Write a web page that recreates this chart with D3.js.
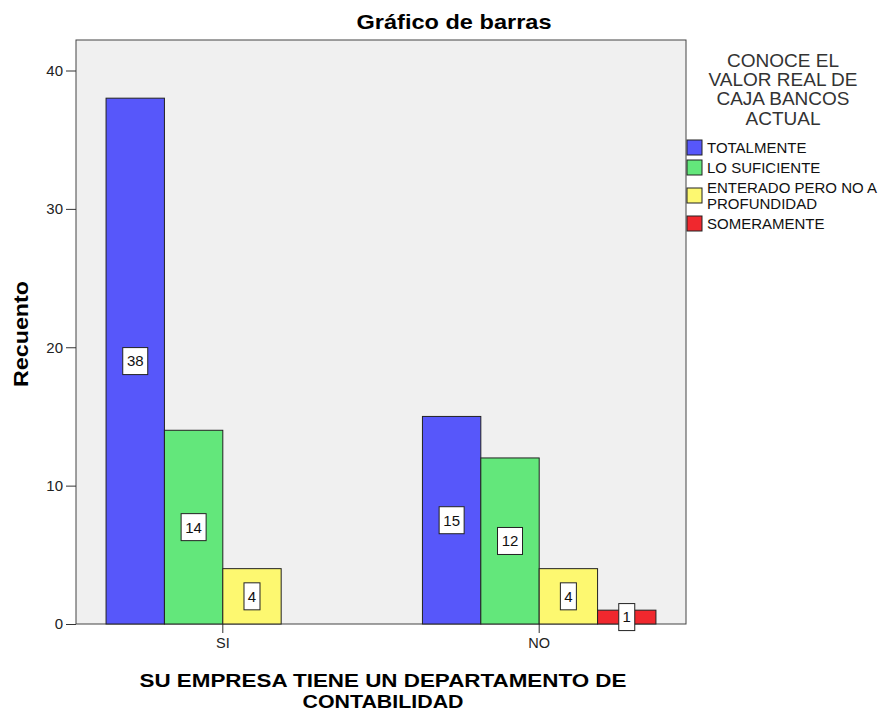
<!DOCTYPE html>
<html>
<head>
<meta charset="utf-8">
<script src="https://cdn.jsdelivr.net/npm/d3@7"></script>
<style>
  body { margin: 0; background: #fff; }
  svg { font-family: "Liberation Sans", Arial, sans-serif; }
</style>
</head>
<body>
<svg id="chart" width="878" height="711"></svg>
<script>
// Categories on the x axis and the response series
const categories = ["SI", "NO"];
const seriesNames = ["TOTALMENTE", "LO SUFICIENTE", "ENTERADO PERO NO A PROFUNDIDAD", "SOMERAMENTE"];
const seriesColors = ["#5757fa", "#63e77b", "#fdf870", "#f0282e"];
// Counts per category, one array per series (null = no bar)
const totalmente = [38, 15];
const loSuficiente = [14, 12];
const enterado = [4, 4];
const someramente = [null, 1];
const yTicks = [0, 10, 20, 30, 40];

const seriesValues = [totalmente, loSuficiente, enterado, someramente];

const svg = d3.select("#chart");
const plot = { left: 76, right: 686, top: 40, bottom: 624 };

const x = d3.scaleBand()
  .domain(categories)
  .range([plot.left, plot.right])
  .paddingInner(0.262)
  .paddingOuter(0.095);

const xs = d3.scaleBand()
  .domain(d3.range(seriesNames.length))
  .range([0, x.bandwidth()]);

const y = d3.scaleLinear()
  .domain([0, 40])
  .range([624, 70.5]);

// Plot background and frame
svg.append("rect")
  .attr("x", plot.left).attr("y", plot.top)
  .attr("width", plot.right - plot.left).attr("height", plot.bottom - plot.top)
  .attr("fill", "#f0f0f0").attr("stroke", "#444").attr("stroke-width", 1);

// Bars
const bars = [];
categories.forEach((c, ci) => {
  seriesValues.forEach((vals, si) => {
    const v = vals[ci];
    if (v != null) bars.push({ c, si, v });
  });
});

const g = svg.append("g");
g.selectAll("rect.bar").data(bars).enter().append("rect")
  .attr("class", "bar")
  .attr("x", d => x(d.c) + xs(d.si))
  .attr("y", d => y(d.v))
  .attr("width", xs.bandwidth())
  .attr("height", d => y(0) - y(d.v))
  .attr("fill", d => seriesColors[d.si])
  .attr("stroke", "#222")
  .attr("stroke-width", 1);

// Value labels in white boxes at mid-height
const lab = g.selectAll("g.lab").data(bars).enter().append("g")
  .attr("class", "lab")
  .attr("transform", d => `translate(${x(d.c) + xs(d.si) + xs.bandwidth() / 2},${(y(0) + y(d.v)) / 2})`);
lab.append("rect")
  .attr("x", d => d.v >= 10 ? -12.5 : -8)
  .attr("y", -13.5)
  .attr("width", d => d.v >= 10 ? 25 : 16)
  .attr("height", 27)
  .attr("fill", "#fff").attr("stroke", "#222").attr("stroke-width", 1);
lab.append("text")
  .attr("text-anchor", "middle")
  .attr("dy", "0.36em")
  .attr("font-size", 15)
  .attr("fill", "#111")
  .text(d => d.v);

// Y axis
const yAxis = svg.append("g")
  .attr("transform", `translate(${plot.left},0)`)
  .call(d3.axisLeft(y).tickValues(yTicks).tickSize(10).tickPadding(3));
yAxis.select(".domain").remove();
yAxis.selectAll("line").attr("stroke", "#333");
yAxis.selectAll("text").attr("font-size", 15).attr("fill", "#222")
  .attr("font-family", "Liberation Sans, Arial, sans-serif");

// X axis
const xAxis = svg.append("g")
  .attr("transform", `translate(0,${plot.bottom})`)
  .call(d3.axisBottom(x).tickSize(9).tickPadding(5));
xAxis.select(".domain").remove();
xAxis.selectAll("line").attr("stroke", "#333");
xAxis.selectAll("text").attr("font-size", 14.5).attr("fill", "#222")
  .attr("font-family", "Liberation Sans, Arial, sans-serif");

// Titles
svg.append("text")
  .attr("x", 454).attr("y", 29)
  .attr("text-anchor", "middle")
  .attr("font-size", 21).attr("font-weight", "bold")
  .attr("textLength", 195).attr("lengthAdjust", "spacingAndGlyphs")
  .text("Gráfico de barras");

svg.append("text")
  .attr("transform", "translate(28,334) rotate(-90)")
  .attr("text-anchor", "middle")
  .attr("font-size", 21).attr("font-weight", "bold")
  .attr("textLength", 106).attr("lengthAdjust", "spacingAndGlyphs")
  .text("Recuento");

const xTitle = [
  { t: "SU EMPRESA TIENE UN DEPARTAMENTO DE", w: 487 },
  { t: "CONTABILIDAD", w: 161 }
];
svg.selectAll("text.xt").data(xTitle).enter().append("text")
  .attr("class", "xt")
  .attr("x", 383).attr("y", (d, i) => 687 + i * 21)
  .attr("text-anchor", "middle")
  .attr("font-size", 18.5).attr("font-weight", "bold")
  .attr("textLength", d => d.w).attr("lengthAdjust", "spacingAndGlyphs")
  .text(d => d.t);

// Legend
const legendTitle = ["CONOCE EL", "VALOR REAL DE", "CAJA BANCOS", "ACTUAL"];
svg.selectAll("text.lt").data(legendTitle).enter().append("text")
  .attr("class", "lt")
  .attr("x", 783).attr("y", (d, i) => 67 + i * 19.2)
  .attr("text-anchor", "middle")
  .attr("font-size", 19).attr("fill", "#333")
  .text(d => d);

const legendRows = [
  { lines: ["TOTALMENTE"], cy: 147.5 },
  { lines: ["LO SUFICIENTE"], cy: 167.5 },
  { lines: ["ENTERADO PERO NO A", "PROFUNDIDAD"], cy: 195.5 },
  { lines: ["SOMERAMENTE"], cy: 223.5 }
];
const leg = svg.selectAll("g.leg").data(legendRows).enter().append("g")
  .attr("class", "leg")
  .attr("transform", d => `translate(687,${d.cy})`);
leg.append("rect")
  .attr("x", 0).attr("y", -7.5)
  .attr("width", 15).attr("height", 15)
  .attr("fill", (d, i) => seriesColors[i])
  .attr("stroke", "#222").attr("stroke-width", 1);
leg.each(function(d) {
  const n = d.lines.length;
  d3.select(this).selectAll("text").data(d.lines).enter().append("text")
    .attr("x", 20)
    .attr("y", (t, j) => (j - (n - 1) / 2) * 16)
    .attr("dy", "0.36em")
    .attr("font-size", 15).attr("fill", "#111")
    .text(t => t);
});
</script>
</body>
</html>
